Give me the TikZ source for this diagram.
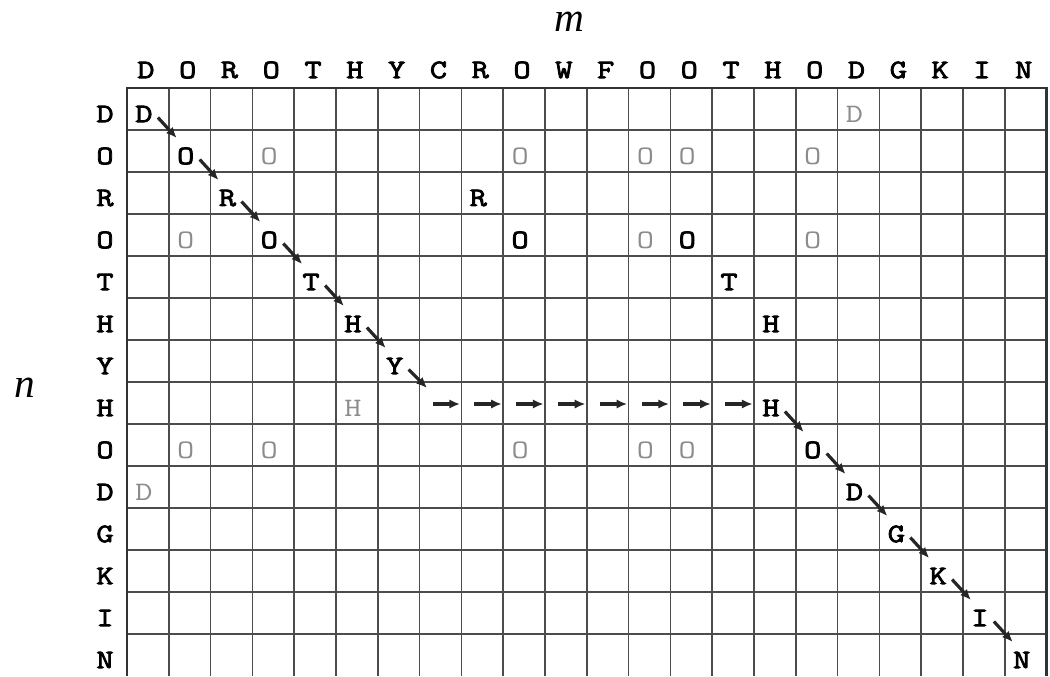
\documentclass[tikz,border=0pt]{standalone}
\usepackage{fontspec}
\setmainfont{Liberation Serif}
\newfontfamily\hitfont{Latin Modern Mono}[FakeBold=3,FakeStretch=1.25]
\newfontfamily\missfont{Latin Modern Mono}[FakeStretch=1.25]
\usetikzlibrary{arrows.meta}

\begin{document}
\begin{tikzpicture}[x=0.75pt,y=-0.75pt,
  gridline/.style={draw=black!70, line width=1.2pt},
  frame/.style={draw=black!80, line width=2.2pt},
  head/.style={font=\hitfont\fontsize{20}{20}\selectfont, inner sep=0pt},
  hit/.style={font=\hitfont\fontsize{20}{20}\selectfont, inner sep=0pt},
  miss/.style={font=\missfont\fontsize{20}{20}\selectfont, text=black!45, inner sep=0pt},
  walk/.style={-{Latex[length=8pt,width=7pt]}, line width=2.4pt, draw=black!85},
  axis/.style={font=\itshape\fontsize{31}{31}\selectfont, inner sep=0pt, anchor=base}]
\def\cw{41.8}
\def\ch{42}
\def\gx{127}
\def\gy{88}
\useasboundingbox (0,0) rectangle (1050,676);

% grid
\foreach \j in {1,...,21}
  \draw[gridline] ({\gx+\cw*\j},\gy) -- ({\gx+\cw*\j},676);
\foreach \i in {1,...,13}
  \draw[gridline] (\gx,{\gy+\ch*\i}) -- ({\gx+\cw*22},{\gy+\ch*\i});
\draw[frame] (\gx,676) -- (\gx,\gy) -- ({\gx+\cw*22},\gy) -- ({\gx+\cw*22},676);

% axis labels
\node[axis] (mlab) at (569,31) {m};
\node[axis] (nlab) at (25,397) {n};

% column and row heads
\foreach \t [count=\j] in {D,O,R,O,T,H,Y,C,R,O,W,F,O,O,T,H,O,D,G,K,I,N}
  \node[head] (col\j) at ({\gx+\cw*(\j-0.5)-2},70) {\t};
\foreach \t [count=\i] in {D,O,R,O,T,H,Y,H,O,D,G,K,I,N}
  \node[head] (row\i) at (105,{\gy+\ch*(\i-0.5)+5}) {\t};

% matches off the path
\foreach \i/\j/\t in {1/18/D, 2/4/O, 2/10/O, 2/13/O, 2/14/O, 2/17/O, 4/2/O, 4/13/O,
    4/17/O, 8/6/H, 9/2/O, 9/4/O, 9/10/O, 9/13/O, 9/14/O, 10/1/D}
  \node[miss] (m\i-\j) at ({\gx+\cw*(\j-0.5)-4},{\gy+\ch*(\i-0.5)+5}) {\t};
\foreach \i/\j/\t in {3/9/R, 4/10/O, 4/14/O, 5/15/T, 6/16/H}
  \node[hit] (m\i-\j) at ({\gx+\cw*(\j-0.5)-4},{\gy+\ch*(\i-0.5)+5}) {\t};

% the path
\foreach \i/\j/\t in {1/1/D, 2/2/O, 3/3/R, 4/4/O, 5/5/T, 6/6/H, 7/7/Y, 8/16/H,
    9/17/O, 10/18/D, 11/19/G, 12/20/K, 13/21/I, 14/22/N}
  \node[hit] (p\i) at ({\gx+\cw*(\j-0.5)-4},{\gy+\ch*(\i-0.5)+5}) {\t};
\foreach \j in {8,...,15}
  \coordinate (g\j) at ({\gx+\cw*(\j-0.5)},{\gy+\ch*7.5});

\foreach \a/\b in {1/2,2/3,3/4,4/5,5/6,6/7,8/9,9/10,10/11,11/12,12/13,13/14}
  \draw[walk] ([shift={(14,3.5)}]p\a.center) -- ([shift={(-9,-18)}]p\b.center);
\draw[walk] ([shift={(14,3.5)}]p7.center) -- ([shift={(-13.5,-15)}]g8);
\foreach \j in {8,...,15}
  \draw[walk] ([shift={(-8,1)}]g\j) -- ([shift={(19.5,1)}]g\j);
\end{tikzpicture}
\end{document}
